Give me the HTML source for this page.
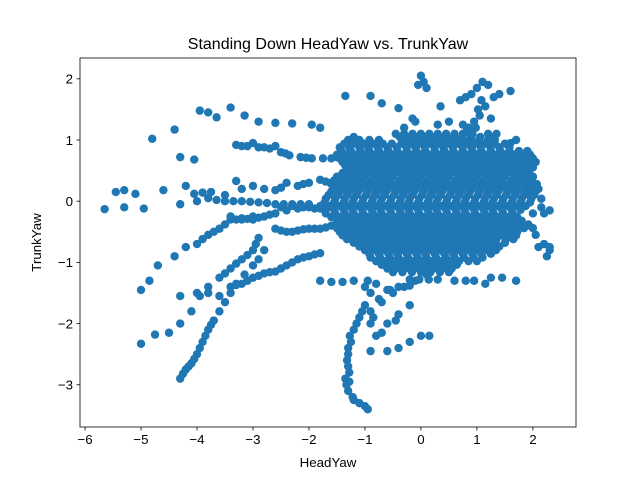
<!DOCTYPE html>
<html><head><meta charset="utf-8"><style>
html,body{margin:0;padding:0;background:#fff}
svg{display:block}
text{font-family:"Liberation Sans","DejaVu Sans",sans-serif;fill:#000}
</style></head><body>
<svg id="chart" width="640" height="480" xmlns="http://www.w3.org/2000/svg">
<rect x="0" y="0" width="640" height="480" fill="#fff"/>
<g id="marks"></g>
<g id="axes"></g>
<text x="328" y="49" font-size="16" text-anchor="middle">Standing Down HeadYaw vs. TrunkYaw</text>
<text x="328" y="467" font-size="13.3" text-anchor="middle">HeadYaw</text>
<text transform="translate(41,242.5) rotate(-90)" font-size="13.3" text-anchor="middle">TrunkYaw</text>
</svg>
<script>
const xTicks=[-6,-5,-4,-3,-2,-1,0,1,2];
const yTicks=[-3,-2,-1,0,1,2];
const streakX=[-5.65,-5.45,-5.3,-5.1,-5.3,-4.95,-4.8,-4.4,-4.3,-4.05,-3.95,-3.8,-3.65,-3.4,-3.15,-2.9,-2.6,-2.3,-1.95,-1.8,-1.35,-0.9,-0.7,-0.4,
-3.3,-3.1,-2.9,-2.7,-2.5,-2.35,-2.15,-1.95,-1.75,-1.6,-1.4,-3.0,-2.6,-3.2,-2.8,-2.42,-2.05,-1.5,
-4.6,-4.2,-4.05,-3.9,-3.75,-3.5,-3.3,-3.2,-3.0,-2.8,-2.6,-2.4,-2.2,-2.0,-1.8,-1.6,-2.5,-2.1,-1.7,
-4.3,-4.0,-3.8,-3.5,-3.2,-2.9,-2.6,-2.3,-2.0,-3.65,-3.35,-3.05,-2.75,-2.45,-2.15,
-3.4,-3.2,-3.0,-2.8,-2.6,-2.4,-2.2,-2.0,-1.8,-1.6,-2.5,-2.3,-2.1,-1.9,-2.7,-2.9,-3.1,-1.7,
-2.6,-2.4,-2.2,-2.0,-1.8,-1.6,-2.5,-2.3,-2.1,-1.9,-1.7,
-5.0,-4.85,-4.7,-4.4,-4.2,-4.0,-3.8,-3.6,-3.4,-3.2,-3.0,-3.9,-3.7,-3.5,-3.3,
-5.0,-4.75,-4.5,-4.3,-4.1,-3.95,-3.8,-3.6,-3.4,-3.2,-3.0,-2.9,-3.5,-3.3,-3.1,-2.95,
-4.3,-4.2,-4.1,-4.0,-3.9,-3.8,-3.7,-3.6,-3.5,-3.4,-3.3,-3.15,-3.0,-2.9,-2.8,-4.25,-4.15,-4.05,-3.95,-3.85,-3.75,
-4.3,-4.0,-3.8,-3.6,-3.4,-3.2,-3.0,-2.8,-2.6,-2.4,-2.2,-2.0,-1.8,-3.3,-3.1,-2.9,-2.7,-2.5,-2.3,-2.1,-1.9,
-1.8,-1.6,-1.4,-1.2,
-1.3,-1.3,-1.35,-1.3,-1.2,-1.0,-0.95,-1.25,-1.2,-1.1,-1.0,-0.9,-1.32,-1.28,-1.1,-1.33,-1.3,-1.27,-1.15,-1.05,-1.28,-1.22,
-0.9,-0.6,-0.4,-0.2,0,0.15,-0.8,-0.6,-0.4,-0.2,-0.9,-0.9,-0.7,-0.5,-0.3,-0.1,0.1,-0.7,-0.45,-0.75,-0.55,-0.85,-1.0,-0.95,-0.8,-0.6,-0.4,-0.2,
0,0.05,-0.05,0.1,1.1,1.2,1.0,0.9,0.8,0.7,1.4,1.6,1.3,1.15,1.05,0.95,0.85,-0.15,0.35,0.5,1.6,1.7,1.25,1.08,1.02,0.98,0.92,0.82,0.75,
2.3,2.25,2.2,2.3,2.2,2.0,2.1,2.0,1.9,1.8,2.1,2.3,1.7,1.45,1.15,0.95,1.25,0.6,0.8,2.15,1.95,2.05,1.9,2.0,-0.3,-0.1,0.3];
const streakY=[-0.13,0.15,0.18,0.12,-0.1,-0.12,1.02,1.17,0.72,0.68,1.48,1.45,1.37,1.53,1.4,1.3,1.28,1.27,1.25,1.2,1.72,1.72,1.6,1.52,
0.92,0.9,0.88,0.86,0.8,0.75,0.72,0.7,0.7,0.7,0.75,0.95,0.9,0.9,0.88,0.78,0.71,0.72,
0.18,0.25,0.12,0.14,0.15,0.1,0.33,0.2,0.25,0.2,0.18,0.3,0.25,0.3,0.35,0.3,0.22,0.28,0.32,
-0.05,0.0,0.05,0.0,0.0,-0.02,-0.05,-0.05,-0.05,0.02,0.0,-0.01,-0.03,-0.05,-0.05,
-0.25,-0.28,-0.3,-0.25,-0.2,-0.15,-0.12,-0.1,-0.12,-0.1,-0.1,-0.08,-0.1,-0.12,-0.22,-0.27,-0.29,-0.11,
-0.45,-0.5,-0.48,-0.45,-0.45,-0.4,-0.48,-0.5,-0.46,-0.45,-0.43,
-1.45,-1.3,-1.05,-0.9,-0.75,-0.7,-0.55,-0.45,-0.3,-0.3,-0.25,-0.62,-0.5,-0.38,-0.3,
-2.33,-2.18,-2.15,-2.0,-1.8,-1.55,-1.4,-1.25,-1.1,-0.95,-0.8,-0.6,-1.18,-1.02,-0.88,-0.7,
-2.9,-2.75,-2.65,-2.5,-2.3,-2.1,-1.95,-1.8,-1.65,-1.5,-1.35,-1.2,-1.05,-0.95,-0.8,-2.82,-2.7,-2.58,-2.4,-2.2,-2.02,
-1.55,-1.5,-1.5,-1.55,-1.4,-1.35,-1.25,-1.18,-1.15,-1.05,-0.95,-0.9,-0.85,-1.37,-1.3,-1.22,-1.16,-1.1,-1.0,-0.92,-0.87,
-1.3,-1.32,-1.32,-1.3,
-2.5,-2.7,-2.9,-3.1,-3.25,-3.35,-3.4,-2.3,-2.1,-1.9,-1.7,-1.5,-2.6,-2.8,-3.3,-3.0,-2.4,-2.2,-2.0,-1.8,-2.95,-3.2,
-2.45,-2.45,-2.4,-2.3,-2.2,-2.2,-2.2,-2.0,-1.85,-1.7,-2.0,-1.8,-1.65,-1.5,-1.4,-1.3,-1.2,-2.15,-1.95,-1.6,-1.45,-1.9,-1.4,-1.3,-1.35,-1.45,-1.4,-1.38,
2.05,1.95,1.9,1.85,1.95,1.9,1.85,1.75,1.7,1.65,1.75,1.8,1.7,1.55,1.4,1.3,1.2,1.35,1.55,1.3,0.95,1.0,1.35,1.65,1.5,1.2,1.1,1.15,1.25,
-0.8,-0.9,-0.7,-0.15,-0.2,-0.2,0.2,0.4,0.65,0.75,-0.75,-0.75,-1.3,-1.25,-1.35,-1.3,-1.25,-1.3,-1.3,-0.1,0.1,-0.55,-0.4,0.55,1.2,1.3,1.25];
const blobYs=[1.10,1.00,0.88,0.76,0.64,0.52,0.40,0.28,0.16,0.04,-0.08,-0.20,-0.32,-0.44,-0.56,-0.68,-0.80,-0.92,-1.04,-1.16,-1.28];
const blobXs=[
[-0.45,-0.3,-0.15,0,0.15,0.3,0.45,0.6,0.75,0.88,1.2,1.35],
[-1.3,-1.1,-0.92,-0.75,-0.3,-0.13,0.04,0.2,0.37,0.54,0.7,0.87,1.04,1.2,1.32],
[-1.45,-1.28,-1.1,-0.94,-0.77,-0.6,-0.43,-0.26,-0.1,0.07,0.24,0.4,0.57,0.74,0.9,1.07,1.24,1.4,1.58],
[-1.5,-1.33,-1.16,-1.0,-0.83,-0.66,-0.5,-0.33,-0.16,0,0.17,0.34,0.5,0.67,0.84,1.0,1.17,1.34,1.5,1.67,1.84,1.95],
[-1.4,-1.23,-1.06,-0.9,-0.73,-0.56,-0.4,-0.23,-0.06,0.1,0.27,0.44,0.6,0.77,0.94,1.1,1.27,1.44,1.6,1.77,1.94,2.05],
[-1.3,-1.13,-0.96,-0.8,-0.63,-0.46,-0.3,-0.13,0.04,0.2,0.37,0.54,0.7,0.87,1.04,1.2,1.37,1.54,1.7,1.87],
[-1.5,-1.33,-1.16,-1.0,-0.83,-0.66,-0.5,-0.33,-0.16,0,0.17,0.34,0.5,0.67,0.84,1.0,1.17,1.34,1.5,1.67,1.84,2.0],
[-1.6,-1.43,-1.26,-1.1,-0.93,-0.76,-0.6,-0.43,-0.26,-0.1,0.07,0.24,0.4,0.57,0.74,0.9,1.07,1.24,1.4,1.57,1.74,1.9,2.07],
[-1.6,-1.45,-1.28,-1.12,-0.95,-0.78,-0.62,-0.45,-0.28,-0.12,0.05,0.22,0.38,0.55,0.72,0.88,1.05,1.22,1.38,1.55,1.72,1.88,2.05],
[-1.7,-1.53,-1.36,-1.2,-1.03,-0.86,-0.7,-0.53,-0.36,-0.2,-0.03,0.14,0.3,0.47,0.64,0.8,0.97,1.14,1.3,1.47,1.64,1.8,1.97,2.15],
[-1.8,-1.63,-1.46,-1.3,-1.13,-0.96,-0.8,-0.63,-0.46,-0.3,-0.13,0.04,0.2,0.37,0.54,0.7,0.87,1.04,1.2,1.37,1.54,1.7,1.87],
[-1.7,-1.53,-1.36,-1.2,-1.03,-0.86,-0.7,-0.53,-0.36,-0.2,-0.03,0.14,0.3,0.47,0.64,0.8,0.97,1.14,1.3,1.47,1.64],
[-1.5,-1.33,-1.16,-1.0,-0.83,-0.66,-0.5,-0.33,-0.16,0,0.17,0.34,0.5,0.67,0.84,1.0,1.17,1.34,1.5,1.67,1.8],
[-1.5,-1.33,-1.16,-1.0,-0.83,-0.66,-0.5,-0.33,-0.16,0,0.17,0.34,0.5,0.67,0.84,1.0,1.17,1.34,1.5,1.67,1.84,2.0],
[-1.4,-1.23,-1.06,-0.9,-0.73,-0.56,-0.4,-0.23,-0.06,0.1,0.27,0.44,0.6,0.77,0.94,1.1,1.27,1.44,1.6,1.7],
[-1.2,-1.03,-0.86,-0.7,-0.53,-0.36,-0.2,-0.03,0.14,0.3,0.47,0.64,0.8,0.97,1.14,1.3,1.5],
[-1.0,-0.83,-0.66,-0.5,-0.33,-0.16,0,0.17,0.34,0.5,0.67,0.84,1.0,1.17,1.34],
[-0.9,-0.73,-0.56,-0.4,-0.23,-0.06,0.1,0.27,0.44,0.6,0.77,0.94,1.1],
[-0.7,-0.53,-0.36,-0.2,-0.03,0.14,0.3,0.47,0.64],
[-0.5,-0.33,-0.16,0,0.17,0.34,0.5],
[-0.2,-0.03,0.14,0.3]];
const fillYs=[1.05,0.94,0.82,0.70,0.58,0.46,0.34,0.22,0.10,-0.02,-0.14,-0.26,-0.38,-0.50,-0.62,-0.74,-0.86,-0.98,-1.10];
const fillXs=[
[-1.2,-0.38,-0.22,-0.06,0.1,0.26,0.42,0.58,0.74,0.9,1.06,1.25],
[-1.37,-1.2,-1.02,-0.85,-0.68,-0.52,-0.35,-0.18,-0.02,0.15,0.32,0.48,0.65,0.82,0.98,1.15,1.32,1.5],
[-1.42,-1.25,-1.08,-0.92,-0.75,-0.58,-0.42,-0.25,-0.08,0.08,0.25,0.42,0.58,0.75,0.92,1.08,1.25,1.42,1.58,1.75,1.9],
[-1.45,-1.28,-1.12,-0.95,-0.78,-0.62,-0.45,-0.28,-0.12,0.05,0.22,0.38,0.55,0.72,0.88,1.05,1.22,1.38,1.55,1.72,1.88,2.0],
[-1.35,-1.18,-1.02,-0.85,-0.68,-0.52,-0.35,-0.18,-0.02,0.15,0.32,0.48,0.65,0.82,0.98,1.15,1.32,1.48,1.65,1.82,1.95],
[-1.4,-1.22,-1.05,-0.88,-0.72,-0.55,-0.38,-0.22,-0.05,0.12,0.28,0.45,0.62,0.78,0.95,1.12,1.28,1.45,1.62,1.78,1.93],
[-1.55,-1.38,-1.22,-1.05,-0.88,-0.72,-0.55,-0.38,-0.22,-0.05,0.12,0.28,0.45,0.62,0.78,0.95,1.12,1.28,1.45,1.62,1.78,1.95],
[-1.52,-1.35,-1.18,-1.02,-0.85,-0.68,-0.52,-0.35,-0.18,-0.02,0.15,0.32,0.48,0.65,0.82,0.98,1.15,1.32,1.48,1.65,1.82,1.98],
[-1.65,-1.48,-1.32,-1.15,-0.98,-0.82,-0.65,-0.48,-0.32,-0.15,0.02,0.18,0.35,0.52,0.68,0.85,1.02,1.18,1.35,1.52,1.68,1.85,2.02],
[-1.72,-1.55,-1.38,-1.22,-1.05,-0.88,-0.72,-0.55,-0.38,-0.22,-0.05,0.12,0.28,0.45,0.62,0.78,0.95,1.12,1.28,1.45,1.62,1.78,1.95],
[-1.72,-1.55,-1.38,-1.22,-1.05,-0.88,-0.72,-0.55,-0.38,-0.22,-0.05,0.12,0.28,0.45,0.62,0.78,0.95,1.12,1.28,1.45,1.62,1.78],
[-1.6,-1.45,-1.28,-1.12,-0.95,-0.78,-0.62,-0.45,-0.28,-0.12,0.05,0.22,0.38,0.55,0.72,0.88,1.05,1.22,1.38,1.55,1.72],
[-1.42,-1.25,-1.08,-0.92,-0.75,-0.58,-0.42,-0.25,-0.08,0.08,0.25,0.42,0.58,0.75,0.92,1.08,1.25,1.42,1.58,1.75,1.92],
[-1.45,-1.28,-1.12,-0.95,-0.78,-0.62,-0.45,-0.28,-0.12,0.05,0.22,0.38,0.55,0.72,0.88,1.05,1.22,1.38,1.55,1.72],
[-1.32,-1.15,-0.98,-0.82,-0.65,-0.48,-0.32,-0.15,0.02,0.18,0.35,0.52,0.68,0.85,1.02,1.18,1.35,1.52,1.65],
[-1.1,-0.95,-0.78,-0.62,-0.45,-0.28,-0.12,0.05,0.22,0.38,0.55,0.72,0.88,1.05,1.22,1.4],
[-0.92,-0.75,-0.58,-0.42,-0.25,-0.08,0.08,0.25,0.42,0.58,0.75,0.92,1.08,1.25],
[-0.8,-0.65,-0.48,-0.32,-0.15,0.02,0.18,0.35,0.52,0.68,0.85,1.0],
[-0.6,-0.45,-0.28,-0.12,0.05,0.22,0.38,0.55]];

const L=80,R=576,T=58,B=427;
const xMin=-6.09,xMax=2.77,yMin=-3.69,yMax=2.34;
function sx(v){return L+(v-xMin)/(xMax-xMin)*(R-L);}
function sy(v){return B-(v-yMin)/(yMax-yMin)*(B-T);}
const NS="http://www.w3.org/2000/svg";
const marks=document.getElementById('marks');
function dot(x,y){
  const c=document.createElementNS(NS,'circle');
  c.setAttribute('cx',sx(x));c.setAttribute('cy',sy(y));c.setAttribute('r',4.2);c.setAttribute('fill','#1f77b4');
  
  
  marks.appendChild(c);
}
for(let i=0;i<streakX.length;i++)dot(streakX[i],streakY[i]);
for(let r=0;r<blobYs.length;r++)for(const x of blobXs[r])dot(x,blobYs[r]);
for(let r=0;r<fillYs.length;r++)for(const x of fillXs[r])dot(x,fillYs[r]);

const axes=document.getElementById('axes');
const frame=document.createElementNS(NS,'rect');
frame.setAttribute('x',L);frame.setAttribute('y',T);frame.setAttribute('width',R-L);frame.setAttribute('height',B-T);
frame.setAttribute('fill','none');frame.setAttribute('stroke','#000');frame.setAttribute('stroke-width','0.8');


axes.appendChild(frame);
for(const t of xTicks){
  const x=sx(t);
  const l=document.createElementNS(NS,'line');
  l.setAttribute('x1',x);l.setAttribute('x2',x);l.setAttribute('y1',B);l.setAttribute('y2',B+3.5);l.setAttribute('stroke','#000');l.setAttribute('stroke-width','0.8');
  
  
  axes.appendChild(l);
  const tx=document.createElementNS(NS,'text');
  tx.setAttribute('x',x);tx.setAttribute('y',B+17);tx.setAttribute('font-size','13.3');tx.setAttribute('text-anchor','middle');
  tx.textContent=(t<0?'\u2212'+(-t):String(t));
  
  
  axes.appendChild(tx);
}
for(const t of yTicks){
  const y=sy(t);
  const l=document.createElementNS(NS,'line');
  l.setAttribute('x1',L-3.5);l.setAttribute('x2',L);l.setAttribute('y1',y);l.setAttribute('y2',y);l.setAttribute('stroke','#000');l.setAttribute('stroke-width','0.8');
  
  
  axes.appendChild(l);
  const tx=document.createElementNS(NS,'text');
  tx.setAttribute('x',L-7);tx.setAttribute('y',y+4.8);tx.setAttribute('font-size','13.3');tx.setAttribute('text-anchor','end');
  tx.textContent=(t<0?'\u2212'+(-t):String(t));
  
  
  axes.appendChild(tx);
}
</script>
</body></html>
